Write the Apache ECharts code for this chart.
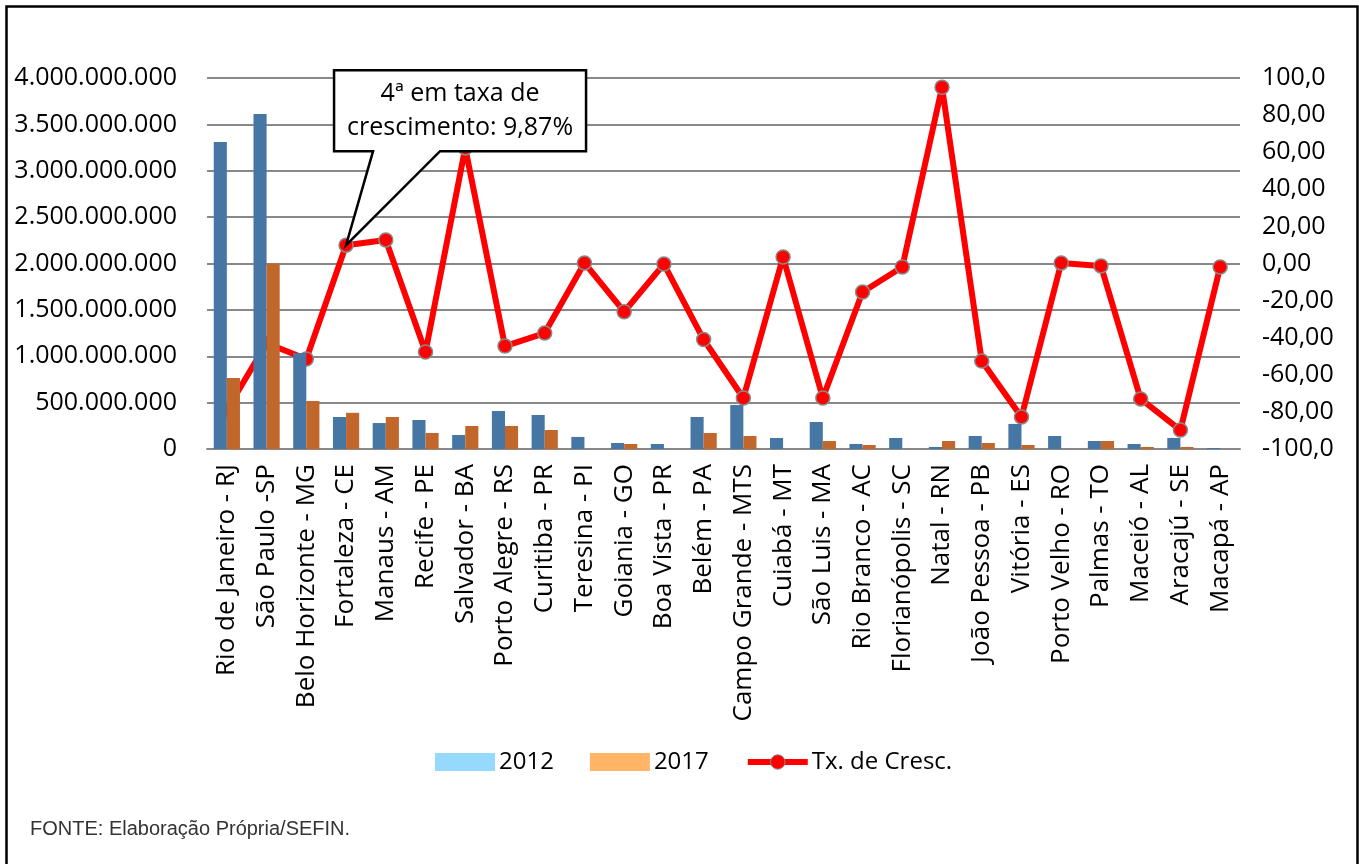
<!DOCTYPE html>
<html>
<head>
<meta charset="utf-8">
<script src="https://cdn.jsdelivr.net/npm/echarts@6/dist/echarts.min.js"></script>
<style>
html,body{margin:0;padding:0;background:#fff;}
#chart{width:1359px;height:864px;}
</style>
</head>
<body>
<div id="chart"></div>
<script>
const categories = ['Rio de Janeiro - RJ','São Paulo -SP','Belo Horizonte - MG','Fortaleza - CE','Manaus - AM','Recife - PE','Salvador - BA','Porto Alegre - RS','Curitiba - PR','Teresina - PI','Goiania - GO','Boa Vista - PR','Belém - PA','Campo Grande - MTS','Cuiabá - MT','São Luis - MA','Rio Branco - AC','Florianópolis - SC','Natal - RN','João Pessoa - PB','Vitória - ES','Porto Velho - RO','Palmas - TO','Maceió - AL','Aracajú - SE','Macapá - AP'];
const values2012 = [3310e6, 3612e6, 1035e6, 345e6, 280e6, 313e6, 151e6, 410e6, 367e6, 130e6, 65e6, 54e6, 345e6, 474e6, 119e6, 291e6, 54e6, 119e6, 22e6, 140e6, 270e6, 140e6, 86e6, 54e6, 119e6, 11e6];
const values2017 = [765e6, 2000e6, 518e6, 390e6, 345e6, 173e6, 248e6, 248e6, 205e6, 0, 54e6, 0, 173e6, 140e6, 0, 86e6, 43e6, 0, 86e6, 65e6, 43e6, 0, 86e6, 22e6, 22e6, 0];
const growthRate = [-79, -43, -51.5, 9.87, 12.7, -47.7, 62.3, -44.5, -37.5, 0.3, -26, -0.3, -41, -72.5, 3.5, -72.5, -15.4, -1.9, 95, -52.6, -82.7, 0.3, -1.3, -73, -89.8, -1.9];
const leftTickLabels = ['0','500.000.000','1.000.000.000','1.500.000.000','2.000.000.000','2.500.000.000','3.000.000.000','3.500.000.000','4.000.000.000'];
const rightTickLabels = ['-100,0','-80,00','-60,00','-40,00','-20,00','0,00','20,00','40,00','60,00','80,00','100,0'];
const seriesNames = ['2012','2017','Tx. de Cresc.'];
const calloutText = '4ª em taxa de\ncrescimento: 9,87%';
const sourceText = 'FONTE: Elaboração Própria/SEFIN.';
const calloutIndex = 3;

const FONT = '"Open Sans", "DejaVu Sans", sans-serif';
const chart = echarts.init(document.getElementById('chart'), null, {renderer:'canvas'});

const option = {
  animation: false,
  backgroundColor: '#fff',
  textStyle: {fontFamily: FONT},
  grid: {left: 207, right: 119, top: 78, bottom: 415, containLabel: false},
  legend: {
    left: 430, top: 745,
    itemWidth: 60, itemHeight: 18, itemGap: 36,
    textStyle: {fontFamily: FONT, fontSize: 24, color: '#000', padding:[0,0,0,-1]},
    data: [
      {name: seriesNames[0], icon: 'rect', itemStyle: {color: '#97d9fc'}},
      {name: seriesNames[1], icon: 'rect', itemStyle: {color: '#ffb466'}},
      {name: seriesNames[2], lineStyle: {width: 6, color: '#ff0000'}, itemStyle: {color: '#ff0000', borderColor: '#888', borderWidth: 1}}
    ]
  },
  xAxis: {
    type: 'category',
    data: categories,
    axisLine: {show: true, lineStyle: {color: '#888', width: 2}},
    axisTick: {show: false},
    axisLabel: {rotate: 90, interval: 0, margin: 15, fontSize: 26, color: '#000', fontFamily: FONT}
  },
  yAxis: [
    {
      type: 'value', min: 0, max: 4000000000, interval: 500000000,
      axisLine: {show: false}, axisTick: {show: false},
      splitLine: {show: true, lineStyle: {color: '#888', width: 2}},
      axisLabel: {margin: 30, fontSize: 25, color: '#000', fontFamily: FONT,
        formatter: v => leftTickLabels[Math.round(v / 500000000)]}
    },
    {
      type: 'value', min: -100, max: 100, interval: 20,
      axisLine: {show: false}, axisTick: {show: false},
      splitLine: {show: false},
      axisLabel: {margin: 22, fontSize: 25, color: '#000', fontFamily: FONT,
        formatter: v => rightTickLabels[Math.round((v + 100) / 20)]}
    }
  ],
  series: [
    {
      name: seriesNames[0], type: 'bar', yAxisIndex: 0, data: values2012, z: 3,
      barGap: '0%', barCategoryGap: '34%',
      itemStyle: {color: '#4677a4'}
    },
    {
      name: seriesNames[1], type: 'bar', yAxisIndex: 0, data: values2017, z: 3,
      barGap: '0%', barCategoryGap: '34%',
      itemStyle: {color: '#c2672c'}
    },
    {
      name: seriesNames[2], type: 'line', yAxisIndex: 1, data: growthRate, z: 2,
      symbol: 'circle', symbolSize: 14,
      lineStyle: {color: '#ff0000', width: 6},
      itemStyle: {color: '#ff0000', borderColor: '#888', borderWidth: 1.5}
    }
  ]
};
chart.setOption(option);

const tip = chart.convertToPixel({seriesIndex: 2}, [calloutIndex, growthRate[calloutIndex]]);
const L = tip[0] - 12, T = tip[1] - 175, W = 252, H = 81;
const B = T + H;
chart.setOption({
  graphic: [
    {
      type: 'rect', left: 4, top: 4, z: 100,
      shape: {x: 0, y: 0, width: 1351, height: 900},
      style: {fill: 'none', stroke: '#000', lineWidth: 2.5}
    },
    {
      type: 'polygon', z: 100,
      shape: {points: [[L, T], [L + W, T], [L + W, B], [tip[0] + 94, B], [tip[0], tip[1]], [tip[0] + 27, B], [L, B]]},
      style: {fill: '#fff', stroke: '#000', lineWidth: 2.5}
    },
    {
      type: 'text', z: 101,
      x: L + W / 2, y: T + H / 2,
      style: {text: calloutText, fill: '#000', font: '25px ' + FONT, align: 'center', verticalAlign: 'middle', lineHeight: 34}
    },
    {
      type: 'text', z: 101, left: 30, top: 819,
      style: {text: sourceText, fill: '#333', font: '20px "Liberation Sans", Arial, sans-serif'}
    }
  ]
});
</script>
</body>
</html>
